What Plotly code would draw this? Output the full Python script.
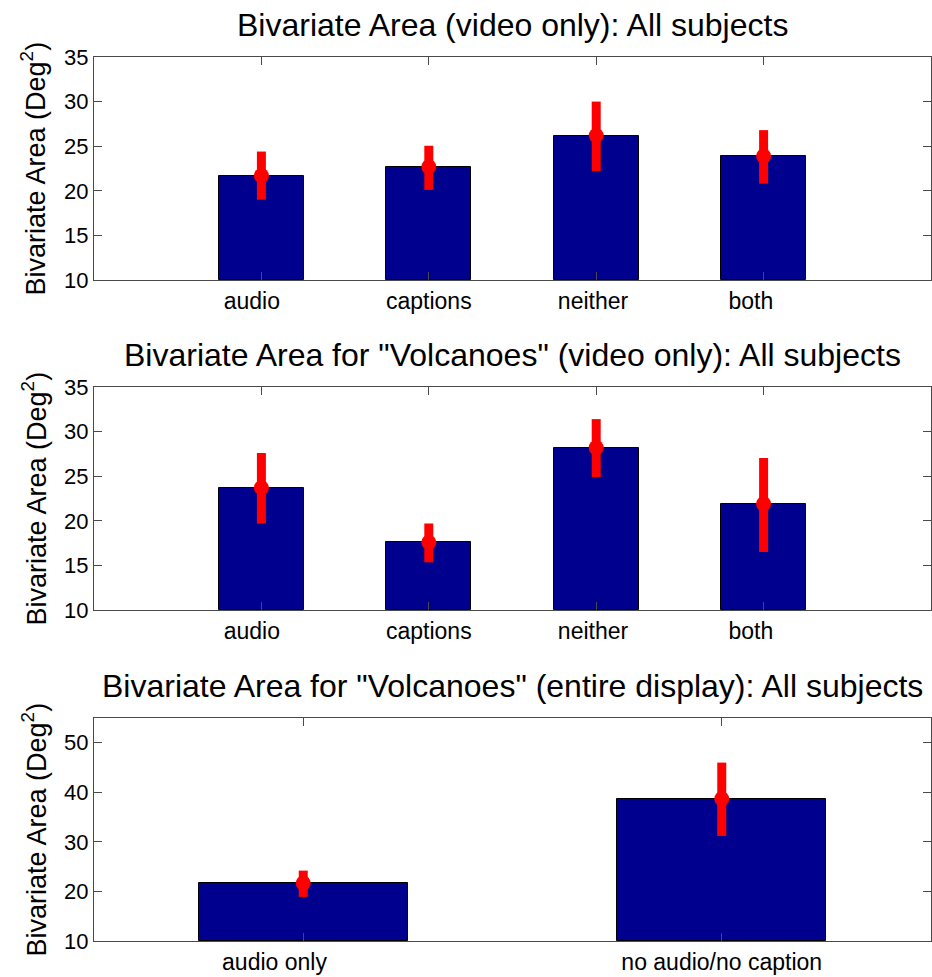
import plotly.graph_objects as go

# Panel 1: Bivariate Area (video only), all subjects
cats_video = ["audio", "captions", "neither", "both"]
mean_video = [21.7, 22.7, 26.2, 23.9]
low_video = [19.0, 20.1, 22.2, 20.8]
high_video = [24.4, 25.05, 30.0, 26.8]

# Panel 2: Bivariate Area for "Volcanoes" (video only)
mean_volc_video = [23.7, 17.6, 28.2, 21.9]
low_volc_video = [19.7, 15.35, 24.9, 16.5]
high_volc_video = [27.6, 19.7, 31.4, 27.05]

# Panel 3: Bivariate Area for "Volcanoes" (entire display)
cats_display = ["audio only", "no audio/no caption"]
mean_display = [21.7, 38.7]
low_display = [18.9, 31.2]
high_display = [24.2, 46.0]

titles = [
    "Bivariate Area (video only): All subjects",
    'Bivariate Area for "Volcanoes" (video only): All subjects',
    'Bivariate Area for "Volcanoes" (entire display): All subjects',
]
ytitle = "Bivariate Area (Deg<sup>2</sup>)"

BAR = "rgb(0,0,143)"
RED = "rgb(255,0,0)"
AXIS = "#4a4a4a"
FONT = "Liberation Sans, Arial, sans-serif"

W, H = 932, 977
# pixel extents of each axes box (top, bottom)
boxes = [(57, 280), (387, 610), (718, 941)]
x_left, x_right = 94, 931

panels = [
    (cats_video, mean_video, low_video, high_video, [0, 5], [10, 35], [10, 15, 20, 25, 30, 35]),
    (cats_video, mean_volc_video, low_volc_video, high_volc_video, [0, 5], [10, 35], [10, 15, 20, 25, 30, 35]),
    (cats_display, mean_display, low_display, high_display, [0.5, 2.5], [10, 55], [10, 20, 30, 40, 50]),
]


def padded(labels):
    # tick labels stored as a char matrix: pad each row to the same length
    n = max(len(s) for s in labels)
    return [s + "\u00a0" * (n - len(s)) for s in labels]


fig = go.Figure()
annotations = []
for i, (cats, mean, low, high, xr, yr, yt) in enumerate(panels):
    n = i + 1
    xa = "x" if n == 1 else f"x{n}"
    ya = "y" if n == 1 else f"y{n}"
    xs = list(range(1, len(cats) + 1))
    fig.add_trace(go.Bar(
        x=xs, y=[m - yr[0] for m in mean], base=yr[0],
        width=0.51 if len(cats) == 4 else 0.5,
        marker=dict(color=BAR, line=dict(color="black", width=1)),
        xaxis=xa, yaxis=ya, showlegend=False, hoverinfo="skip",
    ))
    fig.add_trace(go.Scatter(
        x=xs, y=mean, mode="markers",
        marker=dict(color=RED, size=15, symbol="circle", line=dict(width=0)),
        error_y=dict(
            type="data", symmetric=False,
            array=[h - m for h, m in zip(high, mean)],
            arrayminus=[m - l for m, l in zip(mean, low)],
            color=RED, thickness=9, width=0,
        ),
        xaxis=xa, yaxis=ya, showlegend=False,
    ))
    top, bot = boxes[i]
    ydom = [1 - bot / H, 1 - top / H]
    xdom = [x_left / W, x_right / W]
    axis_common = dict(
        showline=True, linecolor=AXIS, linewidth=1.2, mirror="ticks",
        ticks="inside", ticklen=8, tickcolor=AXIS, tickwidth=1.2,
        showgrid=False, zeroline=False, automargin=False,
    )
    fig.update_layout(**{
        ("xaxis" if n == 1 else f"xaxis{n}"): dict(
            domain=xdom, range=xr, tickmode="array", tickvals=xs,
            ticktext=padded(cats), anchor=ya,
            tickfont=dict(family=FONT, size=23, color="black"), **axis_common),
        ("yaxis" if n == 1 else f"yaxis{n}"): dict(
            domain=ydom, range=yr, tickmode="array", tickvals=yt, anchor=xa,
            tickfont=dict(family=FONT, size=22, color="black"), **axis_common),
    })
    annotations.append(dict(
        text=titles[i], xref="paper", yref="paper",
        x=(xdom[0] + xdom[1]) / 2, y=1 - (top - 12) / H,
        xanchor="center", yanchor="bottom", showarrow=False,
        font=dict(family=FONT, size=32, color="black"),
    ))
    annotations.append(dict(
        text=ytitle, xref="paper", yref="paper",
        x=34 / W, y=1 - ((top + bot) / 2) / H,
        xanchor="center", yanchor="middle", textangle=-90, showarrow=False,
        font=dict(family=FONT, size=27, color="black"),
    ))

fig.update_layout(
    width=W, height=H,
    margin=dict(l=0, r=0, t=0, b=0),
    paper_bgcolor="white", plot_bgcolor="white",
    annotations=annotations,
    bargap=0,
)

fig.write_html("out.html")
